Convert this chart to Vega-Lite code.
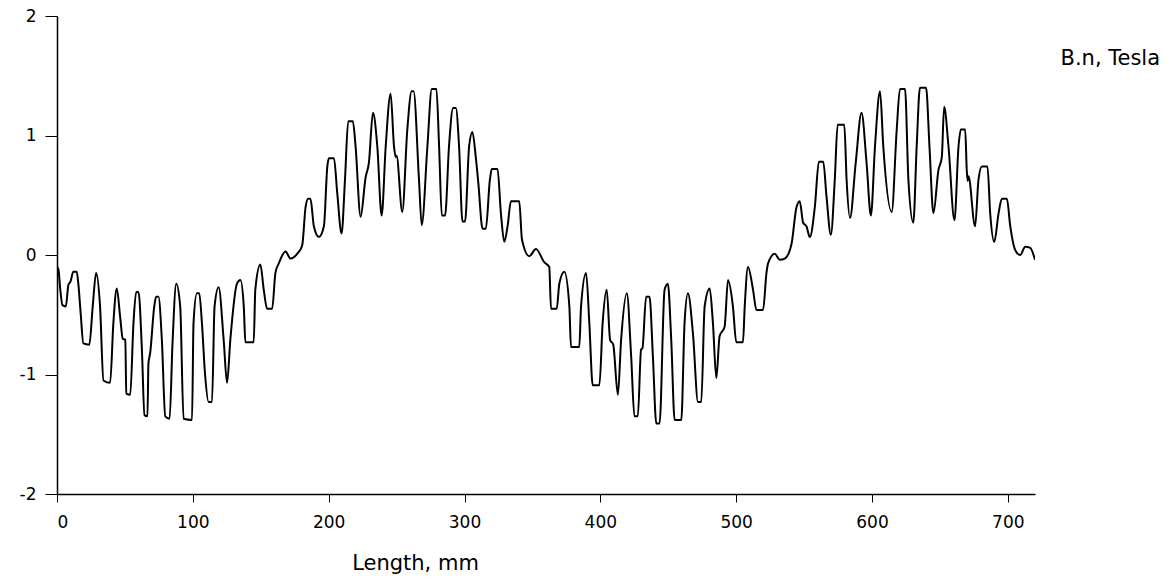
{
  "$schema": "https://vega.github.io/schema/vega-lite/v6.json",
  "width": 978,
  "height": 478,
  "autosize": {"type": "none"},
  "padding": {"left": 57, "top": 16, "right": 139, "bottom": 85},
  "background": "white",
  "config": {
    "view": {"stroke": null},
    "font": "DejaVu Sans",
    "axis": {
      "grid": false,
      "domainColor": "black",
      "domainWidth": 1.5,
      "tickColor": "black",
      "tickWidth": 1,
      "labelColor": "black",
      "titleColor": "black",
      "labelFont": "DejaVu Sans",
      "titleFont": "DejaVu Sans",
      "labelFontSize": 17,
      "titleFontSize": 21,
      "titleFontWeight": "normal"
    }
  },
  "data": {
    "values": [
      {"x": 0, "B": -0.1}, {"x": 1, "B": -0.12}, {"x": 2.5, "B": -0.3}, {"x": 4, "B": -0.42}, {"x": 6.5, "B": -0.43},
      {"x": 8.4, "B": -0.25}, {"x": 10, "B": -0.22}, {"x": 12, "B": -0.14}, {"x": 14.5, "B": -0.14}, {"x": 15.7, "B": -0.24},
      {"x": 17.5, "B": -0.5}, {"x": 19.4, "B": -0.74}, {"x": 23.8, "B": -0.75}, {"x": 26.3, "B": -0.43}, {"x": 28.8, "B": -0.15},
      {"x": 31.7, "B": -0.43}, {"x": 34.2, "B": -1.05}, {"x": 39.1, "B": -1.07}, {"x": 41.5, "B": -0.57}, {"x": 44, "B": -0.28},
      {"x": 46.5, "B": -0.52}, {"x": 48.4, "B": -0.7}, {"x": 50.3, "B": -0.71}, {"x": 51, "B": -1.16}, {"x": 53.9, "B": -1.17},
      {"x": 56.3, "B": -0.57}, {"x": 58.3, "B": -0.31}, {"x": 60, "B": -0.31}, {"x": 62.5, "B": -0.79}, {"x": 64.4, "B": -1.34},
      {"x": 66.6, "B": -1.35}, {"x": 67.3, "B": -0.91}, {"x": 68.6, "B": -0.82}, {"x": 71.6, "B": -0.43}, {"x": 73, "B": -0.35},
      {"x": 74.7, "B": -0.35}, {"x": 77.2, "B": -0.71}, {"x": 79.7, "B": -1.35}, {"x": 82.9, "B": -1.37}, {"x": 85, "B": -0.75},
      {"x": 87.8, "B": -0.24}, {"x": 90.7, "B": -0.43}, {"x": 93.2, "B": -1.37}, {"x": 99.4, "B": -1.38}, {"x": 100.5, "B": -0.57},
      {"x": 103, "B": -0.32}, {"x": 104.7, "B": -0.32}, {"x": 106.7, "B": -0.57}, {"x": 109, "B": -1.0}, {"x": 111.6, "B": -1.23},
      {"x": 114.1, "B": -1.23}, {"x": 116, "B": -0.43}, {"x": 119, "B": -0.27}, {"x": 122.7, "B": -0.71}, {"x": 125.2, "B": -1.07},
      {"x": 127.6, "B": -0.71}, {"x": 132.5, "B": -0.24}, {"x": 135, "B": -0.21}, {"x": 137.5, "B": -0.43}, {"x": 138.7, "B": -0.73},
      {"x": 144.8, "B": -0.73}, {"x": 146, "B": -0.29}, {"x": 149.7, "B": -0.08}, {"x": 152.2, "B": -0.29}, {"x": 154.7, "B": -0.45},
      {"x": 158.4, "B": -0.45}, {"x": 160.8, "B": -0.15}, {"x": 163.3, "B": -0.07}, {"x": 168.2, "B": 0.03}, {"x": 171.9, "B": -0.03},
      {"x": 176.8, "B": 0.01}, {"x": 180.5, "B": 0.08}, {"x": 183, "B": 0.4}, {"x": 184.9, "B": 0.47}, {"x": 186.6, "B": 0.47},
      {"x": 189.1, "B": 0.24}, {"x": 192.8, "B": 0.15}, {"x": 196.5, "B": 0.24}, {"x": 199, "B": 0.74}, {"x": 200.2, "B": 0.81},
      {"x": 203.9, "B": 0.81}, {"x": 206.3, "B": 0.52}, {"x": 209.5, "B": 0.18}, {"x": 212, "B": 0.63}, {"x": 214.4, "B": 1.12},
      {"x": 217.8, "B": 1.12}, {"x": 219.8, "B": 0.91}, {"x": 223.5, "B": 0.32}, {"x": 227.2, "B": 0.65}, {"x": 229.6, "B": 0.77},
      {"x": 232.6, "B": 1.19}, {"x": 235.8, "B": 0.91}, {"x": 239, "B": 0.33}, {"x": 242, "B": 0.91}, {"x": 245.6, "B": 1.35},
      {"x": 248.1, "B": 0.91}, {"x": 249.3, "B": 0.82}, {"x": 250, "B": 0.83}, {"x": 254.2, "B": 0.36}, {"x": 257.9, "B": 1.05},
      {"x": 261.1, "B": 1.37}, {"x": 262.5, "B": 1.37}, {"x": 266.5, "B": 0.63}, {"x": 268.5, "B": 0.25}, {"x": 272.7, "B": 0.91},
      {"x": 275.9, "B": 1.39}, {"x": 279.3, "B": 1.39}, {"x": 281.3, "B": 0.91}, {"x": 283.3, "B": 0.33}, {"x": 285.7, "B": 0.33},
      {"x": 288.6, "B": 0.91}, {"x": 291.6, "B": 1.23}, {"x": 293.6, "B": 1.23}, {"x": 296, "B": 0.91}, {"x": 298.5, "B": 0.28},
      {"x": 300.4, "B": 0.28}, {"x": 303.4, "B": 0.91}, {"x": 305.8, "B": 1.03}, {"x": 308.3, "B": 0.82}, {"x": 310.2, "B": 0.6},
      {"x": 313.3, "B": 0.22}, {"x": 315.7, "B": 0.22}, {"x": 318.7, "B": 0.63}, {"x": 320.1, "B": 0.72}, {"x": 324.3, "B": 0.72},
      {"x": 326.8, "B": 0.35}, {"x": 329.3, "B": 0.11}, {"x": 331.7, "B": 0.24}, {"x": 334.2, "B": 0.45}, {"x": 340.3, "B": 0.45},
      {"x": 342.3, "B": 0.13}, {"x": 347.7, "B": -0.01}, {"x": 352.6, "B": 0.05}, {"x": 358.7, "B": -0.06}, {"x": 362.4, "B": -0.1},
      {"x": 363.7, "B": -0.45}, {"x": 367.9, "B": -0.45}, {"x": 369.8, "B": -0.24}, {"x": 373.5, "B": -0.14}, {"x": 377.2, "B": -0.43},
      {"x": 378.4, "B": -0.77}, {"x": 384.5, "B": -0.77}, {"x": 385.8, "B": -0.43}, {"x": 389.5, "B": -0.15}, {"x": 391.9, "B": -0.57},
      {"x": 394.4, "B": -1.09}, {"x": 399.3, "B": -1.09}, {"x": 401.7, "B": -0.57}, {"x": 404.7, "B": -0.29}, {"x": 407.2, "B": -0.71},
      {"x": 409.5, "B": -0.75}, {"x": 412.9, "B": -1.17}, {"x": 415.3, "B": -0.71}, {"x": 419.5, "B": -0.32}, {"x": 422.7, "B": -0.85},
      {"x": 425.1, "B": -1.35}, {"x": 427.6, "B": -1.35}, {"x": 430, "B": -0.79}, {"x": 431, "B": -0.78}, {"x": 433.7, "B": -0.35},
      {"x": 436.2, "B": -0.35}, {"x": 438.7, "B": -0.85}, {"x": 441.2, "B": -1.41}, {"x": 443.6, "B": -1.41}, {"x": 447.3, "B": -0.29},
      {"x": 449.7, "B": -0.24}, {"x": 452.2, "B": -0.71}, {"x": 454.7, "B": -1.38}, {"x": 459.6, "B": -1.38}, {"x": 462, "B": -0.57},
      {"x": 464.5, "B": -0.32}, {"x": 468.2, "B": -0.66}, {"x": 471.9, "B": -1.23}, {"x": 474.3, "B": -1.23}, {"x": 476.8, "B": -0.43},
      {"x": 480.5, "B": -0.28}, {"x": 482.9, "B": -0.57}, {"x": 485.4, "B": -1.03}, {"x": 487.8, "B": -0.68}, {"x": 491.5, "B": -0.6},
      {"x": 494, "B": -0.21}, {"x": 497.6, "B": -0.43}, {"x": 500.1, "B": -0.73}, {"x": 505, "B": -0.73}, {"x": 506.3, "B": -0.43},
      {"x": 508.7, "B": -0.1}, {"x": 512.4, "B": -0.29}, {"x": 514.9, "B": -0.46}, {"x": 519.8, "B": -0.46}, {"x": 522.3, "B": -0.15},
      {"x": 523.5, "B": -0.07}, {"x": 528.4, "B": 0.01}, {"x": 532.1, "B": -0.04}, {"x": 535.8, "B": -0.03}, {"x": 540.7, "B": 0.09},
      {"x": 544.4, "B": 0.4}, {"x": 546.8, "B": 0.45}, {"x": 549.3, "B": 0.27}, {"x": 551.8, "B": 0.24}, {"x": 554.2, "B": 0.15},
      {"x": 557.9, "B": 0.4}, {"x": 560.9, "B": 0.78}, {"x": 564.1, "B": 0.78}, {"x": 566.5, "B": 0.49}, {"x": 569.7, "B": 0.17},
      {"x": 572.6, "B": 0.63}, {"x": 574.7, "B": 1.09}, {"x": 579.6, "B": 1.09}, {"x": 581.3, "B": 0.63}, {"x": 583.8, "B": 0.31},
      {"x": 588, "B": 0.77}, {"x": 592.3, "B": 1.19}, {"x": 596, "B": 0.77}, {"x": 599.2, "B": 0.33}, {"x": 602.2, "B": 0.91},
      {"x": 605.9, "B": 1.37}, {"x": 608.3, "B": 0.91}, {"x": 614.5, "B": 0.36}, {"x": 618.2, "B": 1.05}, {"x": 620.6, "B": 1.39},
      {"x": 624.3, "B": 1.39}, {"x": 626.8, "B": 0.63}, {"x": 630.4, "B": 0.27}, {"x": 632.9, "B": 0.91}, {"x": 635.3, "B": 1.4},
      {"x": 639.8, "B": 1.4}, {"x": 642.3, "B": 0.91}, {"x": 645.2, "B": 0.35}, {"x": 648.9, "B": 0.71}, {"x": 651.4, "B": 0.82},
      {"x": 653.1, "B": 1.24}, {"x": 656.3, "B": 0.91}, {"x": 660.7, "B": 0.29}, {"x": 663.7, "B": 0.91}, {"x": 665.4, "B": 1.05},
      {"x": 668.6, "B": 1.05}, {"x": 669.8, "B": 0.7}, {"x": 670.5, "B": 0.62}, {"x": 671, "B": 0.66}, {"x": 675.9, "B": 0.24},
      {"x": 678.4, "B": 0.63}, {"x": 680.9, "B": 0.74}, {"x": 685, "B": 0.74}, {"x": 687, "B": 0.35}, {"x": 690, "B": 0.11},
      {"x": 693.2, "B": 0.35}, {"x": 695.6, "B": 0.47}, {"x": 699.3, "B": 0.47}, {"x": 701.8, "B": 0.24}, {"x": 705.5, "B": 0.04},
      {"x": 709.1, "B": 0.0}, {"x": 712.8, "B": 0.07}, {"x": 716.5, "B": 0.06}, {"x": 720, "B": -0.04}
    ]
  },
  "mark": {"type": "line", "color": "black", "strokeWidth": 2, "interpolate": "monotone", "clip": true},
  "encoding": {
    "x": {
      "field": "x",
      "type": "quantitative",
      "scale": {"domain": [0, 720], "nice": false, "zero": false},
      "axis": {
        "values": [0, 100, 200, 300, 400, 500, 600, 700],
        "title": "Length, mm",
        "tickSize": 8,
        "labelPadding": 12,
        "titleX": 358,
        "titleY": 69,
        "titleAlign": "center",
        "titleBaseline": "middle"
      }
    },
    "y": {
      "field": "B",
      "type": "quantitative",
      "scale": {"domain": [-2, 2], "nice": false},
      "axis": {
        "values": [-2, -1, 0, 1, 2],
        "labelExpr": "datum.value < 0 ? '-' + (-datum.value) : '' + datum.value",
        "title": "B.n, Tesla",
        "tickSize": 12,
        "labelPadding": 9,
        "titleAngle": 0,
        "titleX": 1003,
        "titleY": 42,
        "titleAlign": "left",
        "titleBaseline": "middle"
      }
    }
  }
}
